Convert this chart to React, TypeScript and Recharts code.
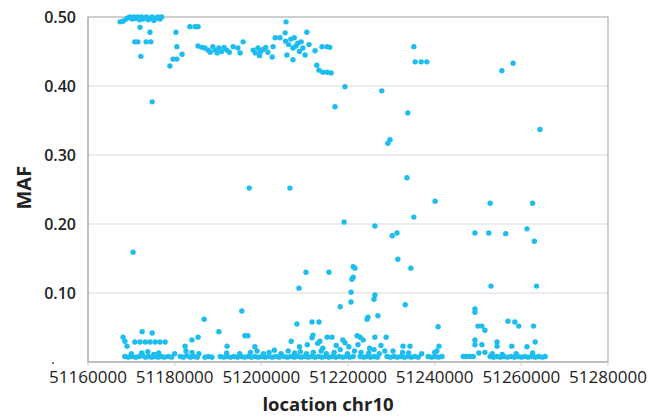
import React from "react";
import {
  ScatterChart,
  Scatter,
  XAxis,
  YAxis,
  CartesianGrid,
  ReferenceArea,
} from "recharts";

// [location (bp), MAF]
const upperBand: [number, number][] = [
  [51167400, 0.493], [51168100, 0.494], [51168800, 0.497], [51169300, 0.499],
  [51169700, 0.5], [51170200, 0.497], [51170600, 0.5], [51171000, 0.498],
  [51171500, 0.5], [51171900, 0.496], [51172300, 0.5], [51172700, 0.497],
  [51173100, 0.499], [51173500, 0.5], [51173900, 0.496], [51174300, 0.498],
  [51174800, 0.5], [51175200, 0.495], [51175600, 0.498], [51176100, 0.5],
  [51176600, 0.497], [51177000, 0.5],
  [51172000, 0.485], [51174300, 0.478],
  [51170800, 0.464], [51171500, 0.464], [51173400, 0.464], [51174500, 0.464],
  [51172200, 0.443], [51174800, 0.377],
  [51178900, 0.429], [51179600, 0.439], [51180500, 0.439],
  [51180300, 0.478], [51180500, 0.457], [51181700, 0.446],
  [51183500, 0.486], [51184700, 0.486], [51185400, 0.486],
  [51185400, 0.458], [51186300, 0.456],
  [51187000, 0.455], [51187700, 0.452], [51188200, 0.449], [51188800, 0.457],
  [51189300, 0.452], [51189800, 0.448], [51190200, 0.455], [51190800, 0.45],
  [51191400, 0.456], [51192000, 0.452], [51192600, 0.449],
  [51193500, 0.457], [51194600, 0.455], [51195100, 0.448], [51195800, 0.464],
  [51198100, 0.452], [51198600, 0.448], [51199200, 0.455], [51199800, 0.45],
  [51200400, 0.453], [51201000, 0.456], [51201500, 0.449], [51199600, 0.444],
  [51202500, 0.442], [51202700, 0.457], [51203200, 0.47], [51204300, 0.47],
  [51205700, 0.493], [51205500, 0.477], [51205600, 0.465], [51206300, 0.46],
  [51206800, 0.468], [51207300, 0.455], [51207600, 0.47], [51208000, 0.458],
  [51208400, 0.462], [51208800, 0.45], [51209200, 0.464], [51205900, 0.445],
  [51207300, 0.438], [51210500, 0.478], [51210100, 0.445], [51209600, 0.455],
  [51211000, 0.46], [51212400, 0.451],
  [51212800, 0.43], [51213300, 0.423], [51214200, 0.42], [51215200, 0.42],
  [51216100, 0.419],
  [51214000, 0.457], [51215200, 0.457], [51215800, 0.456],
  [51219300, 0.399], [51217000, 0.37], [51227800, 0.393], [51233800, 0.361],
  [51229200, 0.317], [51229700, 0.322],
  [51235200, 0.457], [51235500, 0.435], [51236900, 0.435], [51238200, 0.435],
  [51255500, 0.422], [51258100, 0.433], [51264300, 0.337],
];

const middleBand: [number, number][] = [
  [51170400, 0.159], [51197200, 0.252], [51206600, 0.252],
  [51233600, 0.267], [51240100, 0.233], [51252800, 0.23], [51262600, 0.23],
  [51235200, 0.21], [51219100, 0.203], [51226200, 0.197],
  [51230200, 0.183], [51231300, 0.187],
  [51249300, 0.187], [51252500, 0.187], [51256400, 0.186], [51261300, 0.193],
  [51263000, 0.175],
  [51231500, 0.149], [51234500, 0.136],
  [51210300, 0.13], [51215600, 0.13],
  [51221200, 0.138], [51221600, 0.136], [51221200, 0.123], [51220900, 0.12],
  [51220700, 0.101], [51208700, 0.107],
  [51253000, 0.11], [51263500, 0.11],
];

const lowerBand: [number, number][] = [
  [51220700, 0.087], [51226200, 0.097], [51226000, 0.091], [51233200, 0.083],
  [51218200, 0.08], [51195500, 0.074], [51186800, 0.062], [51190200, 0.044],
  [51172500, 0.044], [51174800, 0.042],
  [51208200, 0.055], [51211700, 0.058], [51213300, 0.058],
  [51196200, 0.038], [51196900, 0.038], [51192100, 0.023], [51206900, 0.03],
  [51211700, 0.035], [51211900, 0.039],
  [51168100, 0.036], [51168500, 0.03], [51169000, 0.023],
  [51170800, 0.029], [51172000, 0.029], [51173200, 0.029], [51174300, 0.029],
  [51175500, 0.029], [51176600, 0.029], [51177800, 0.029],
  [51182400, 0.023], [51184000, 0.032], [51185400, 0.036], [51198500, 0.022],
  [51213500, 0.03], [51215200, 0.036], [51216300, 0.036],
  [51224400, 0.062], [51224600, 0.065], [51226900, 0.067], [51240800, 0.051],
  [51222100, 0.038], [51222800, 0.036], [51223500, 0.032], [51226200, 0.036],
  [51228800, 0.036], [51218800, 0.032], [51219300, 0.028],
  [51232700, 0.023], [51234300, 0.023], [51241000, 0.023],
  [51228500, 0.016], [51230400, 0.016], [51240500, 0.016],
  [51249300, 0.077], [51249300, 0.072], [51250000, 0.052], [51250900, 0.052],
  [51251600, 0.046], [51256900, 0.059], [51258500, 0.058], [51259400, 0.052],
  [51262800, 0.052], [51249300, 0.032], [51249300, 0.025], [51250900, 0.025],
  [51251600, 0.014], [51254400, 0.029], [51254400, 0.023], [51257800, 0.023],
  [51261300, 0.022], [51263200, 0.029],
  [51208800, 0.022], [51210600, 0.025], [51214200, 0.02], [51217300, 0.024],
  [51220200, 0.022], [51222300, 0.025], [51225000, 0.02], [51227600, 0.024],
  [51213000, 0.027],
];

const bottomRow: [number, number][] = [
  [51168500, 0.008], [51169300, 0.007], [51170200, 0.008], [51171000, 0.007],
  [51171800, 0.008], [51172600, 0.009], [51173300, 0.007], [51174000, 0.008],
  [51174700, 0.007], [51175400, 0.008], [51176200, 0.007], [51176900, 0.008],
  [51177600, 0.007], [51178500, 0.008], [51179300, 0.007],
  [51181300, 0.008], [51182000, 0.007], [51182800, 0.009], [51183600, 0.007],
  [51184400, 0.008], [51185200, 0.007],
  [51187000, 0.007], [51187800, 0.008], [51188600, 0.007],
  [51190500, 0.008], [51191300, 0.007], [51192100, 0.008], [51192900, 0.007],
  [51193700, 0.008], [51194500, 0.007], [51195300, 0.008], [51196100, 0.007],
  [51196900, 0.008], [51197700, 0.007], [51198500, 0.008], [51199300, 0.007],
  [51200100, 0.008], [51200900, 0.007], [51201700, 0.008], [51202500, 0.007],
  [51203300, 0.008], [51204100, 0.007],
  [51205200, 0.008], [51206000, 0.007], [51206800, 0.008], [51207600, 0.007],
  [51208400, 0.008], [51209200, 0.007], [51210000, 0.008], [51210800, 0.007],
  [51211600, 0.008], [51212400, 0.007], [51213200, 0.008], [51214000, 0.007],
  [51214800, 0.008], [51215600, 0.007], [51216400, 0.008], [51217200, 0.007],
  [51218000, 0.008], [51218800, 0.007], [51219600, 0.008], [51220400, 0.007],
  [51221200, 0.008],
  [51222800, 0.008], [51223600, 0.007], [51224400, 0.008], [51225200, 0.007],
  [51226000, 0.008], [51226800, 0.007],
  [51229000, 0.008], [51229800, 0.007], [51230600, 0.008], [51231400, 0.007],
  [51232200, 0.008], [51233000, 0.007], [51233800, 0.008], [51234600, 0.007],
  [51235400, 0.008], [51236200, 0.007],
  [51238500, 0.008], [51239300, 0.007], [51240100, 0.008], [51240900, 0.007],
  [51241700, 0.008],
  [51246600, 0.008], [51247400, 0.008], [51248200, 0.008], [51248900, 0.008],
  [51252800, 0.008], [51253600, 0.007], [51254400, 0.008], [51255200, 0.007],
  [51256000, 0.008], [51256800, 0.007], [51257600, 0.008], [51258400, 0.007],
  [51259200, 0.008], [51260000, 0.007], [51260800, 0.008], [51261600, 0.007],
  [51262400, 0.008], [51263200, 0.007], [51264000, 0.008], [51264800, 0.007],
  [51265500, 0.008],
  [51170000, 0.012], [51172400, 0.013], [51173800, 0.015], [51175200, 0.011],
  [51176300, 0.013], [51180000, 0.012], [51182600, 0.016], [51184000, 0.014],
  [51185600, 0.012], [51192000, 0.013], [51195000, 0.012], [51197500, 0.014],
  [51199000, 0.016], [51200500, 0.012], [51201800, 0.014], [51203000, 0.017],
  [51204500, 0.012], [51206200, 0.016], [51207700, 0.013], [51209000, 0.015],
  [51210400, 0.012], [51212000, 0.014], [51213800, 0.016], [51215000, 0.012],
  [51216800, 0.014], [51218200, 0.018], [51219900, 0.012], [51221500, 0.016],
  [51223000, 0.014], [51224800, 0.013], [51226000, 0.018], [51227200, 0.012],
  [51232600, 0.014], [51234000, 0.013], [51237000, 0.012], [51240000, 0.014],
  [51250200, 0.013], [51253300, 0.012], [51255600, 0.011], [51258800, 0.012],
  [51262600, 0.013],
];

const xTicks = [51160000, 51180000, 51200000, 51220000, 51240000, 51260000, 51280000];
const yTicks = [0, 0.1, 0.2, 0.3, 0.4, 0.5];

const DOT = "#1dbdf0";

const points = [...upperBand, ...middleBand, ...lowerBand, ...bottomRow].map(
  ([location, maf]) => ({ location, maf })
);

const Dot = (props: any) => (
  <circle cx={props.cx} cy={props.cy} r={2.7} fill={DOT} />
);

const YTick = (props: any) => {
  const { x, y, payload } = props;
  if (payload.value === 0) {
    return (
      <circle cx={x - 23} cy={y + 1} r={1} fill="#444" />
    );
  }
  return (
    <text
      x={x}
      y={y}
      dy={6}
      textAnchor="end"
      fill="#222"
      fontSize={16}
      fontWeight={600}
    >
      {payload.value.toFixed(2)}
    </text>
  );
};

export default function App() {
  return (
    <div
      style={{
        position: "absolute",
        left: 0,
        top: 0,
        background: "#fff",
        fontFamily: "'Open Sans', sans-serif",
      }}
    >
      <ScatterChart
        width={655}
        height={418}
        margin={{ top: 17, right: 47, left: 0, bottom: 0 }}
      >
        <CartesianGrid vertical={false} stroke="#d9d9d9" />
        <ReferenceArea
          x1={51160000}
          x2={51280000}
          y1={0}
          y2={0.5}
          fill="none"
          stroke="#b0b0b0"
          strokeWidth={1.2}
        />
        <XAxis
          type="number"
          dataKey="location"
          domain={[51160000, 51280000]}
          ticks={xTicks}
          interval={0}
          height={56}
          stroke="#b0b0b0"
          tickLine={{ stroke: "#d0d0d0" }}
          tickSize={4}
          tickMargin={5}
          tick={{ fill: "#222", fontSize: 17, fontWeight: 500 }}
          label={{
            value: "location chr10",
            position: "insideBottom",
            offset: 7,
            dx: -20,
            fill: "#222",
            fontSize: 18.5,
            fontWeight: 700,
          }}
        />
        <YAxis
          type="number"
          dataKey="maf"
          domain={[0, 0.5]}
          ticks={yTicks}
          interval={0}
          width={88}
          stroke="#b0b0b0"
          tickLine={false}
          tickMargin={6}
          tick={<YTick />}
          label={{
            value: "MAF",
            angle: -90,
            position: "insideLeft",
            offset: 24,
            dy: 20,
            fill: "#222",
            fontSize: 20,
            fontWeight: 700,
          }}
        />
        <Scatter data={points} shape={<Dot />} isAnimationActive={false} />
      </ScatterChart>
    </div>
  );
}
